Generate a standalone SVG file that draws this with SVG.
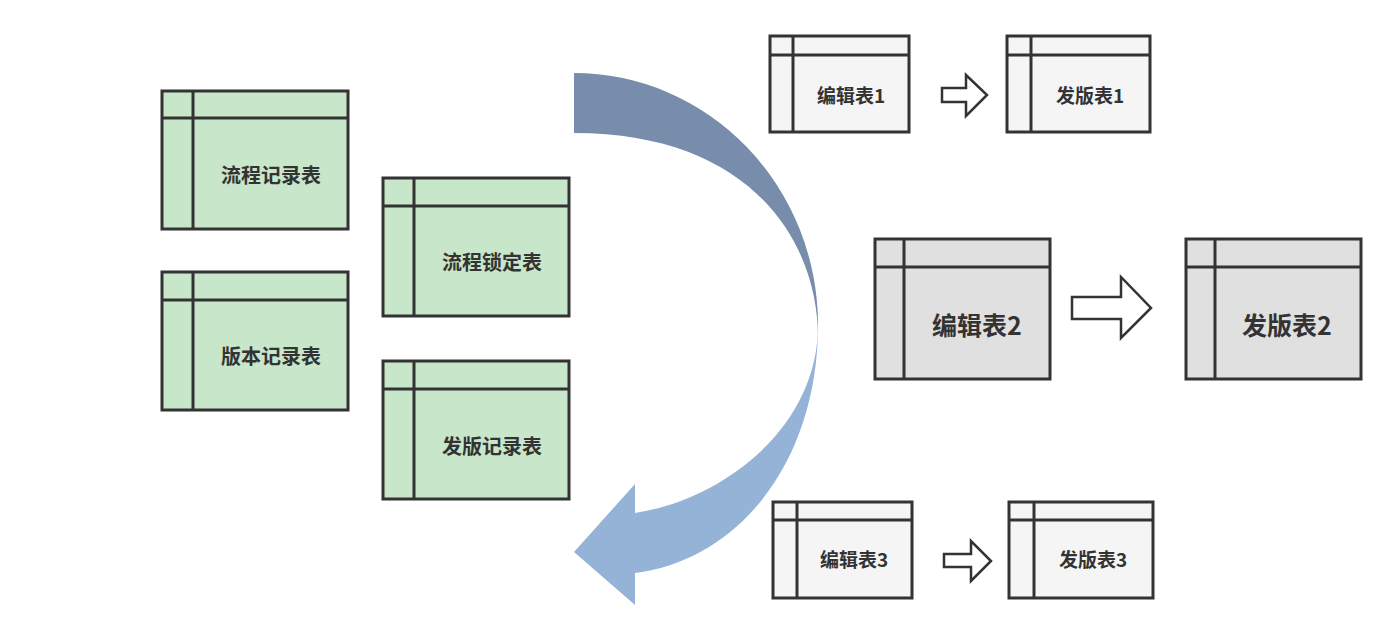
<svg xmlns="http://www.w3.org/2000/svg" width="1400" height="639" viewBox="0 0 1400 639">
<style>
.box{stroke:#333;stroke-width:3}
.ln{stroke:#333;stroke-width:3;fill:none}
.g{fill:#c8e6c9}
.l{fill:#f5f5f5}
.m{fill:#e0e0e0}
.t{font-family:"Noto Sans CJK SC","Microsoft YaHei",sans-serif;font-weight:bold;fill:#333;text-anchor:middle;dominant-baseline:central}
.t20{font-size:20px}
.t19{font-size:19px}
.t25{font-size:25px}
.ar{fill:#fff;stroke:#333;stroke-width:2.5;stroke-linejoin:miter}
</style>
<rect width="1400" height="639" fill="#fff"/>
<g id="connectors">
<path d="M818,325 C818,460 740,560 635,573 L635,605 L574,552 L635,484 L635,513 C720,500 818,430 818,325 Z" fill="#95b3d7"/>
<path d="M574,73 A244,252 0 0 1 818,325 L818,338 C818,240 750,133 574,133 Z" fill="#778dab"/>
<polygon class="ar" points="942,88 966,88 966,75 987,95 966,116 966,102 942,102"/>
<polygon class="ar" points="1072,297 1121,297 1121,277 1151,308 1121,338 1121,319 1072,319"/>
<polygon class="ar" points="944,554 971,554 971,541 991,561 971,581 971,567 944,567"/>
</g>
<g id="n1">
<rect class="box g" x="162" y="91" width="186" height="138"/>
<line class="ln" x1="162" y1="118" x2="348" y2="118"/><line class="ln" x1="193" y1="91" x2="193" y2="229"/>
<text class="t t20" x="271" y="174">流程记录表</text>
</g>
<g id="n2">
<rect class="box g" x="162" y="272" width="186" height="138"/>
<line class="ln" x1="162" y1="300" x2="348" y2="300"/><line class="ln" x1="193" y1="272" x2="193" y2="410"/>
<text class="t t20" x="271" y="355">版本记录表</text>
</g>
<g id="n3">
<rect class="box g" x="383" y="178" width="186" height="138"/>
<line class="ln" x1="383" y1="206" x2="569" y2="206"/><line class="ln" x1="414" y1="178" x2="414" y2="316"/>
<text class="t t20" x="492" y="261">流程锁定表</text>
</g>
<g id="n4">
<rect class="box g" x="383" y="361" width="186" height="138"/>
<line class="ln" x1="383" y1="389" x2="569" y2="389"/><line class="ln" x1="414" y1="361" x2="414" y2="499"/>
<text class="t t20" x="492" y="445">发版记录表</text>
</g>
<g id="e1">
<rect class="box l" x="770" y="36" width="139" height="96"/>
<line class="ln" x1="770" y1="55" x2="909" y2="55"/><line class="ln" x1="793" y1="36" x2="793" y2="132"/>
<text class="t t19" x="851" y="94">编辑表1</text>
</g>
<g id="p1">
<rect class="box l" x="1007" y="36" width="143" height="96"/>
<line class="ln" x1="1007" y1="55" x2="1150" y2="55"/><line class="ln" x1="1031" y1="36" x2="1031" y2="132"/>
<text class="t t19" x="1090" y="94">发版表1</text>
</g>
<g id="e2">
<rect class="box m" x="875" y="239" width="175" height="140"/>
<line class="ln" x1="875" y1="267" x2="1050" y2="267"/><line class="ln" x1="904" y1="239" x2="904" y2="379"/>
<text class="t t25" x="977" y="324">编辑表2</text>
</g>
<g id="p2">
<rect class="box m" x="1186" y="239" width="175" height="140"/>
<line class="ln" x1="1186" y1="267" x2="1361" y2="267"/><line class="ln" x1="1215" y1="239" x2="1215" y2="379"/>
<text class="t t25" x="1287" y="324">发版表2</text>
</g>
<g id="e3">
<rect class="box l" x="773" y="502" width="139" height="96"/>
<line class="ln" x1="773" y1="520" x2="912" y2="520"/><line class="ln" x1="797" y1="502" x2="797" y2="598"/>
<text class="t t19" x="854" y="558">编辑表3</text>
</g>
<g id="p3">
<rect class="box l" x="1009" y="502" width="144" height="96"/>
<line class="ln" x1="1009" y1="520" x2="1153" y2="520"/><line class="ln" x1="1034" y1="502" x2="1034" y2="598"/>
<text class="t t19" x="1093" y="558">发版表3</text>
</g>
</svg>
